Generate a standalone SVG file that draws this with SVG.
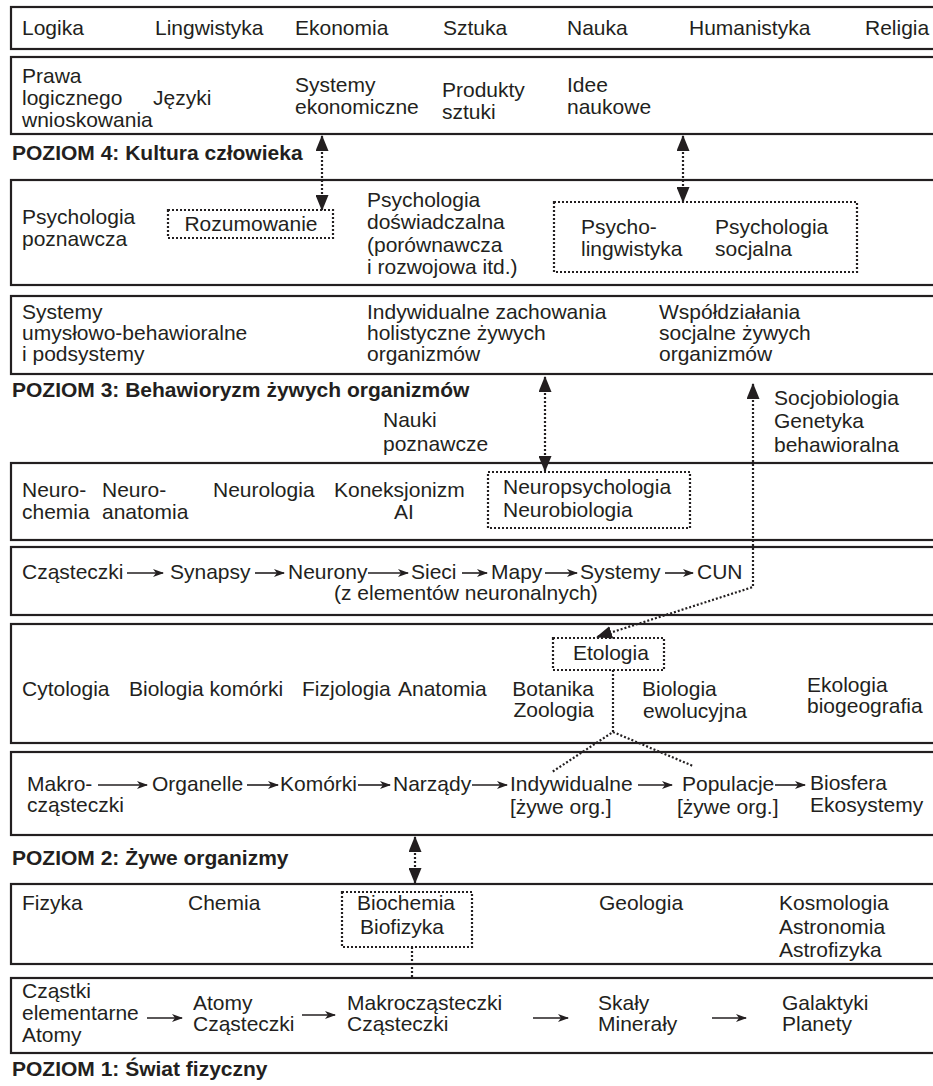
<svg xmlns="http://www.w3.org/2000/svg" width="933" height="1086" viewBox="0 0 933 1086">
<style>
text{font-family:"Liberation Sans",Arial,sans-serif;font-size:21px;fill:#231f20}
.b{font-weight:bold}
.box{fill:none;stroke:#231f20;stroke-width:2.2}
.dbox{fill:none;stroke:#231f20;stroke-width:2.2;stroke-dasharray:2 2}
.dot{fill:none;stroke:#231f20;stroke-width:2.2;stroke-dasharray:2 2}
.ch{fill:none;stroke:#231f20;stroke-width:1.6}
</style>
<defs>
<marker id="ah" markerUnits="userSpaceOnUse" viewBox="0 0 16 13" markerWidth="16" markerHeight="13" refX="15" refY="6.5" orient="auto-start-reverse"><path d="M0,0 L16,6.5 L0,13 z" fill="#231f20"/></marker>
<marker id="sa" markerUnits="userSpaceOnUse" viewBox="0 0 11 8" markerWidth="11" markerHeight="8" refX="10" refY="4" orient="auto"><path d="M0,0 L11,4 L0,8 L3,4 z" fill="#231f20"/></marker>
</defs>

<g id="level4-fields">
<rect class="box" x="11" y="7" width="935" height="42"/>
<text x="22" y="35">Logika</text>
<text x="155" y="35">Lingwistyka</text>
<text x="295" y="35">Ekonomia</text>
<text x="443" y="35">Sztuka</text>
<text x="567" y="35">Nauka</text>
<text x="689" y="35">Humanistyka</text>
<text x="865" y="35">Religia</text>
</g>

<g id="level4-products">
<rect class="box" x="11" y="57" width="935" height="77"/>
<text x="22" y="83">Prawa</text>
<text x="22" y="105">logicznego</text>
<text x="22" y="127">wnioskowania</text>
<text x="153" y="105">Języki</text>
<text x="295" y="92">Systemy</text>
<text x="295" y="114">ekonomiczne</text>
<text x="442" y="97">Produkty</text>
<text x="442" y="119">sztuki</text>
<text x="567" y="92">Idee</text>
<text x="567" y="114">naukowe</text>
</g>
<text class="b" x="12" y="160">POZIOM 4: Kultura człowieka</text>

<g id="psychology">
<rect class="box" x="11" y="180" width="935" height="105"/>
<text x="22" y="224">Psychologia</text>
<text x="22" y="246">poznawcza</text>
<text x="367" y="207">Psychologia</text>
<text x="367" y="229">doświadczalna</text>
<text x="367" y="252">(porównawcza</text>
<text x="367" y="274">i rozwojowa itd.)</text>
</g>
<g id="rozumowanie">
<rect class="dbox" x="168" y="210" width="165" height="28"/>
<text x="251" y="231" text-anchor="middle">Rozumowanie</text>
</g>
<g id="psycholing">
<rect class="dbox" x="554" y="202" width="303" height="70"/>
<text x="581" y="234">Psycho-</text>
<text x="581" y="256">lingwistyka</text>
<text x="715" y="234">Psychologia</text>
<text x="715" y="256">socjalna</text>
</g>

<g id="level3-behaviour">
<rect class="box" x="11" y="296" width="935" height="78"/>
<text x="22" y="319">Systemy</text>
<text x="22" y="340">umysłowo-behawioralne</text>
<text x="22" y="361">i podsystemy</text>
<text x="367" y="319">Indywidualne zachowania</text>
<text x="367" y="340">holistyczne żywych</text>
<text x="367" y="361">organizmów</text>
<text x="659" y="319">Współdziałania</text>
<text x="659" y="340">socjalne żywych</text>
<text x="659" y="361">organizmów</text>
</g>
<text class="b" x="12" y="397">POZIOM 3: Behawioryzm żywych organizmów</text>
<g id="nauki-poznawcze">
<text x="383" y="427">Nauki</text>
<text x="383" y="451">poznawcze</text>
</g>
<g id="socjobiologia">
<text x="774" y="405">Socjobiologia</text>
<text x="774" y="428">Genetyka</text>
<text x="774" y="452">behawioralna</text>
</g>

<g id="neuro">
<rect class="box" x="11" y="463" width="935" height="77"/>
<text x="22" y="497">Neuro-</text>
<text x="22" y="519">chemia</text>
<text x="102" y="497">Neuro-</text>
<text x="102" y="519">anatomia</text>
<text x="213" y="497">Neurologia</text>
<text x="334" y="497">Koneksjonizm</text>
<text x="404" y="519" text-anchor="middle">AI</text>
</g>
<g id="neuropsych">
<rect class="dbox" x="488" y="472" width="202" height="56"/>
<text x="503" y="494">Neuropsychologia</text>
<text x="503" y="517">Neurobiologia</text>
</g>

<g id="neural-chain">
<rect class="box" x="11" y="547" width="935" height="68"/>
<text x="22" y="579">Cząsteczki</text>
<text x="170" y="579">Synapsy</text>
<text x="288" y="579">Neurony</text>
<text x="411" y="579">Sieci</text>
<text x="491" y="579">Mapy</text>
<text x="580" y="579">Systemy</text>
<text x="697" y="579">CUN</text>
<text x="334" y="600">(z elementów neuronalnych)</text>
</g>

<g id="biology">
<rect class="box" x="11" y="624" width="935" height="119"/>
<text x="22" y="696">Cytologia</text>
<text x="129" y="696">Biologia komórki</text>
<text x="302" y="696">Fizjologia</text>
<text x="398" y="696">Anatomia</text>
<text x="594" y="696" text-anchor="end">Botanika</text>
<text x="594" y="717" text-anchor="end">Zoologia</text>
<text x="642" y="696">Biologia</text>
<text x="643" y="718">ewolucyjna</text>
<text x="807" y="692">Ekologia</text>
<text x="807" y="713">biogeografia</text>
</g>
<g id="etologia">
<rect class="dbox" x="553" y="638" width="111" height="32"/>
<text x="573" y="660">Etologia</text>
</g>

<g id="living-chain">
<rect class="box" x="11" y="752" width="935" height="83"/>
<text x="27" y="791">Makro-</text>
<text x="27" y="812">cząsteczki</text>
<text x="152" y="791">Organelle</text>
<text x="280" y="791">Komórki</text>
<text x="393" y="791">Narządy</text>
<text x="510" y="791">Indywidualne</text>
<text x="510" y="814">[żywe org.]</text>
<text x="682" y="791">Populacje</text>
<text x="677" y="814">[żywe org.]</text>
<text x="810" y="790">Biosfera</text>
<text x="810" y="812">Ekosystemy</text>
</g>
<text class="b" x="12" y="865">POZIOM 2: Żywe organizmy</text>

<g id="physics">
<rect class="box" x="11" y="884" width="935" height="80"/>
<text x="22" y="910">Fizyka</text>
<text x="188" y="910">Chemia</text>
<text x="599" y="910">Geologia</text>
<text x="779" y="910">Kosmologia</text>
<text x="779" y="934">Astronomia</text>
<text x="779" y="957">Astrofizyka</text>
</g>
<g id="biochemia">
<rect class="dbox" x="342" y="892" width="130" height="55"/>
<text x="357" y="910">Biochemia</text>
<text x="360" y="934">Biofizyka</text>
</g>

<g id="physical-chain">
<rect class="box" x="11" y="978" width="935" height="75"/>
<text x="22" y="998">Cząstki</text>
<text x="22" y="1020">elementarne</text>
<text x="22" y="1042">Atomy</text>
<text x="193" y="1010">Atomy</text>
<text x="193" y="1031">Cząsteczki</text>
<text x="347" y="1010">Makrocząsteczki</text>
<text x="347" y="1031">Cząsteczki</text>
<text x="598" y="1010">Skały</text>
<text x="598" y="1031">Minerały</text>
<text x="782" y="1010">Galaktyki</text>
<text x="782" y="1031">Planety</text>
</g>
<text class="b" x="12" y="1076">POZIOM 1: Świat fizyczny</text>

<g id="connectors">
<path class="dot" d="M322,136 L322,210" marker-start="url(#ah)" marker-end="url(#ah)"/>
<path class="dot" d="M683,136 L683,202" marker-start="url(#ah)" marker-end="url(#ah)"/>
<path class="dot" d="M545,377 L545,471" marker-start="url(#ah)" marker-end="url(#ah)"/>
<path class="dot" d="M753,384 L753,587 L597,637" marker-start="url(#ah)" marker-end="url(#ah)"/>
<path class="dot" d="M613,670 L613,732 L552,772 M613,732 L693,766"/>
<path class="dot" d="M415,837 L415,883" marker-start="url(#ah)" marker-end="url(#ah)"/>
<path class="dot" d="M412,947 L412,978"/>
<path class="ch" d="M127,573 L163,573" marker-end="url(#sa)"/>
<path class="ch" d="M255,573 L284,573" marker-end="url(#sa)"/>
<path class="ch" d="M368,573 L408,573" marker-end="url(#sa)"/>
<path class="ch" d="M462,573 L487,573" marker-end="url(#sa)"/>
<path class="ch" d="M545,573 L577,573" marker-end="url(#sa)"/>
<path class="ch" d="M665,573 L693,573" marker-end="url(#sa)"/>
<path class="ch" d="M98,785 L147,785" marker-end="url(#sa)"/>
<path class="ch" d="M247,785 L278,785" marker-end="url(#sa)"/>
<path class="ch" d="M358,785 L390,785" marker-end="url(#sa)"/>
<path class="ch" d="M472,785 L507,785" marker-end="url(#sa)"/>
<path class="ch" d="M638,785 L672,785" marker-end="url(#sa)"/>
<path class="ch" d="M775,785 L805,785" marker-end="url(#sa)"/>
<path class="ch" d="M147,1018 L182,1018" marker-end="url(#sa)"/>
<path class="ch" d="M302,1015 L335,1015" marker-end="url(#sa)"/>
<path class="ch" d="M533,1018 L568,1018" marker-end="url(#sa)"/>
<path class="ch" d="M712,1018 L746,1018" marker-end="url(#sa)"/>
</g>
</svg>
